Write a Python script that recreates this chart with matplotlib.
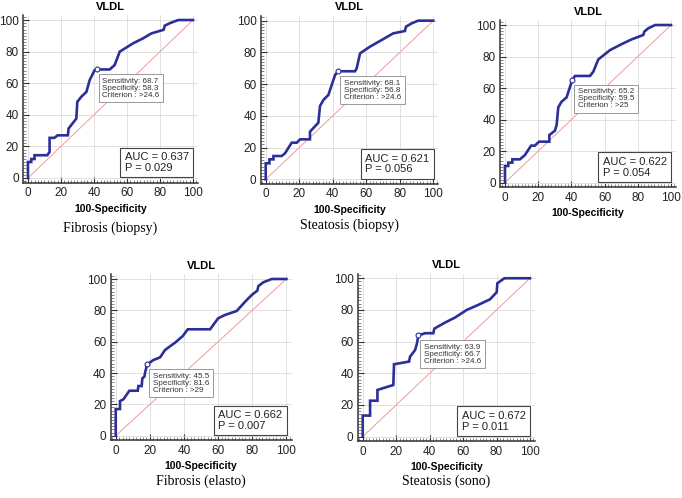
import matplotlib
matplotlib.use("Agg")
import matplotlib.pyplot as plt
from matplotlib.ticker import MultipleLocator

plt.rcParams['font.family'] = ['Liberation Sans', 'DejaVu Sans']

W, H = 682, 498

# ---- data (100-Specificity, Sensitivity) ----
fib_biopsy_x = [0, 0, 2, 2, 4, 4, 11.7, 13.1, 13.1, 16, 18, 24.2, 24.6, 29.3, 29.9, 32.3, 35.4, 37.4, 40.4, 41.7,
                49.5, 52.5, 55.6, 63.6, 69.7, 74.7, 81.8, 82.3, 82.8, 85.9, 91, 100]
fib_biopsy_y = [0, 10.1, 10.1, 12, 12, 14.4, 14.4, 16.5, 25.4, 25.4, 27, 27, 31.3, 37.6, 48.2, 51.4, 54.5, 62, 68.3, 68.7,
                68.7, 71.5, 80, 85.2, 88.4, 91.5, 93.7, 94, 96.4, 98, 100, 100]

ste_biopsy_x = [0, 0, 2.2, 2.2, 4.6, 4.6, 9.5, 11.5, 15.5, 18.5, 20.5, 26.4, 26.4, 31.4, 32.4, 34.4, 37.4, 39.4, 41.4, 43.2,
                53.3, 54.3, 56.3, 62.2, 69.2, 76.1, 83.1, 83.7, 87.1, 91, 100]
ste_biopsy_y = [0, 10.1, 10.1, 12.6, 12.6, 14.7, 14.7, 16.4, 23.1, 23.1, 25.2, 25.2, 30, 35.7, 46.2, 50, 53.2, 59.5, 65.8, 68.1,
                68.1, 70, 79.4, 83.6, 87.8, 92, 93.5, 96.2, 98.3, 100, 100]

third_x = [0, 0, 2, 2, 4.4, 4.4, 9, 12, 15.7, 18, 20.5, 26.7, 26.7, 30.1, 31.1, 32.1, 34.1, 37.1, 39.2, 40.5,
           42.2, 51.2, 53.2, 56.2, 63.3, 70.3, 76.3, 83.3, 83.9, 86.3, 90.4, 100]
third_y = [0, 10.6, 10.6, 12.7, 12.7, 14.8, 14.8, 17.5, 23.5, 23.5, 26, 26, 30.2, 33, 36.6, 47.8, 51.4, 54.1, 60.9, 65.2,
           67.7, 67.7, 70.4, 78.2, 84.1, 87.9, 90.9, 93.7, 95.8, 97.9, 100, 100]

fib_elasto_x = [0, 0, 2.5, 2.5, 4.5, 8, 12.9, 13.3, 15.2, 15.6, 16.8, 17.2, 18.4, 22.1, 26, 28.9, 34.8, 39.3, 42.2,
                55.3, 60, 63.9, 70.9, 75.8, 79.7, 83, 83.6, 86.5, 91.4, 100]
fib_elasto_y = [0, 17, 17, 22.1, 23.2, 28.7, 28.7, 31.7, 31.7, 36.6, 37.7, 40.2, 45.5, 48.3, 50, 54.7, 59.4, 63.6, 67.9,
                67.9, 74.9, 77, 79.6, 85.5, 89.8, 92.6, 95.5, 97.9, 100, 100]

ste_sono_x = [0, 0, 4.4, 4.4, 8.8, 8.8, 18.3, 18.7, 27.7, 28.3, 31.3, 32.3, 33.3, 37.3, 42.2, 42.8, 49.2, 55.2, 62.2,
              69.1, 76.1, 80.1, 80.5, 84.7, 100]
ste_sono_y = [0, 13.3, 13.3, 22.7, 22.7, 29.5, 32.6, 45.7, 47.4, 50.5, 54.7, 58.3, 63.9, 65.3, 65.3, 68.2, 72, 75.2, 80,
              83.2, 86.7, 91.2, 96.8, 100, 100]

markers = [(41.7, 68.7), (43.2, 68.1), (40.5, 65.2), (18.4, 45.5), (33.3, 63.9)]
sens_txt = ["Sensitivity: 68.7\nSpecificity: 58.3\nCriterion : >24.6",
            "Sensitivity: 68.1\nSpecificity: 56.8\nCriterion : >24.6",
            "Sensitivity: 65.2\nSpecificity: 59.5\nCriterion : >25",
            "Sensitivity: 45.5\nSpecificity: 81.6\nCriterion : >29",
            "Sensitivity: 63.9\nSpecificity: 66.7\nCriterion : >24.6"]
auc_txt = ["AUC = 0.637\nP = 0.029", "AUC = 0.621\nP = 0.056", "AUC = 0.622\nP = 0.054",
           "AUC = 0.662\nP = 0.007", "AUC = 0.672\nP = 0.011"]
subtitles = ["Fibrosis (biopsy)", "Steatosis (biopsy)", "", "Fibrosis (elasto)", "Steatosis (sono)"]
ticks = [0, 20, 40, 60, 80, 100]

curves = [(fib_biopsy_x, fib_biopsy_y), (ste_biopsy_x, ste_biopsy_y), (third_x, third_y),
          (fib_elasto_x, fib_elasto_y), (ste_sono_x, ste_sono_y)]

# axes rectangles in pixels: left, top, right, bottom
rects = [(23, 15.3, 198, 182.7),
         (260.7, 15.9, 438.3, 184.1),
         (500, 20.3, 676, 187.4),
         (110.6, 274.3, 291.5, 440.4),
         (357.7, 273.5, 535, 441.4)]
sub_y = [228, 225, None, 481.7, 481.7]

fig = plt.figure(figsize=(W / 100, H / 100), dpi=100)
blue = '#2b2f96'

for i, (l, t, r, b) in enumerate(rects):
    ax = fig.add_axes([l / W, 1 - b / H, (r - l) / W, (b - t) / H])
    xs, ys = curves[i]
    ax.set_xlim(-3, 103)
    ax.set_ylim(-3, 103)
    ax.plot([0, 100], [0, 100], color='#f19b9b', lw=0.7, zorder=2)
    ax.plot(xs, ys, color=blue, lw=1.9, solid_joinstyle='miter', zorder=3)
    mx, my = markers[i]
    ax.plot([mx], [my], marker='o', ms=3.5, mfc='white', mec=blue, mew=0.8, zorder=4)
    ax.set_xticks(ticks)
    ax.set_yticks(ticks)
    ax.xaxis.set_minor_locator(MultipleLocator(2))
    ax.yaxis.set_minor_locator(MultipleLocator(2))
    ax.grid(True, which='major', color='#dcdcdc', lw=0.6)
    ax.set_axisbelow(True)
    for s in ['top', 'right']:
        ax.spines[s].set_visible(False)
    for s in ['left', 'bottom']:
        ax.spines[s].set_color('#333333')
        ax.spines[s].set_linewidth(1.1)
    ax.tick_params(which='major', direction='in', length=4, width=0.8, color='#333333',
                   labelsize=8.5, pad=3, labelcolor='#222222')
    ax.tick_params(which='minor', direction='in', length=2, width=0.5, color='#555555')
    ax.set_title("VLDL", fontsize=8, fontweight='bold', pad=4)
    ax.set_xlabel("100-Specificity", fontsize=7.5, fontweight='bold', labelpad=3.5)
    ax.annotate(sens_txt[i], xy=(mx, my), xytext=(4.0, -6.0), textcoords='offset points',
                ha='left', va='top', fontsize=5.8, linespacing=1.0, color='#333333',
                bbox=dict(boxstyle='square,pad=0.45', fc='white', ec='#999999', lw=0.7), zorder=5)
    ax.annotate(auc_txt[i], xy=(100, 0.5), xytext=(-3, 3), textcoords='offset points',
                ha='right', va='bottom', multialignment='left', fontsize=8, linespacing=1.1,
                color='#222222',
                bbox=dict(boxstyle='square,pad=0.4', fc='white', ec='#444444', lw=0.8), zorder=5)
    if subtitles[i]:
        cx = (l + r) / 2
        fig.text(cx / W, 1 - sub_y[i] / H, subtitles[i], ha='center', va='center',
                 fontsize=10, family=['Liberation Serif', 'DejaVu Serif'])

fig.savefig("out.png", dpi=100)
